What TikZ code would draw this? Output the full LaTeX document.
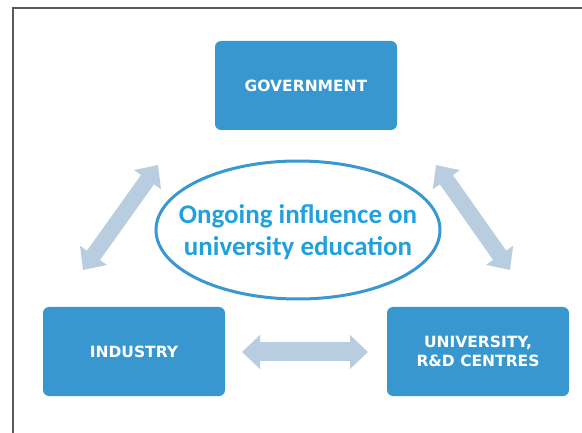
\documentclass[tikz,border=0pt]{standalone}
\usepackage{fontspec}
\setmainfont{DejaVu Sans}
\newfontfamily\carlito{Carlito}
\usetikzlibrary{arrows.meta}
\definecolor{boxblue}{HTML}{3797CE}
\definecolor{ringblue}{HTML}{3A98D0}
\definecolor{txtblue}{HTML}{22A0DC}
\definecolor{arrowgray}{HTML}{B9CDE0}
\definecolor{framegray}{HTML}{5A5A5A}
\tikzset{
  actor/.style={rectangle, rounded corners=6pt, fill=boxblue, text=white,
    minimum width=182pt, minimum height=89pt, inner sep=0pt, align=center,
    font=\fontsize{15.5}{19}\selectfont\bfseries},
  blockarrow/.style={draw=arrowgray, line width=16pt,
    {Triangle[width=32pt,length=18pt]}-{Triangle[width=32pt,length=18pt]}},
  hblockarrow/.style={draw=arrowgray, line width=19pt,
    {Triangle[width=33pt,length=18pt]}-{Triangle[width=33pt,length=18pt]}},
}
\begin{document}
\begin{tikzpicture}[x=1pt,y=-1pt]
\useasboundingbox (0,0) rectangle (582,433);
\draw[framegray, line width=1.6pt] (13,433) -- (13,8) -- (582,8);

\node[actor, text height=13pt] (gov) at (306,85.5) {GOVERNMENT};
\node[actor, text height=13pt] (ind) at (134,351.5) {INDUSTRY};
\node[actor] (uni) at (478,351.5) {UNIVERSITY,\\R\&D CENTRES};

\draw[ringblue, line width=3pt] (298,230) ellipse [x radius=142, y radius=69];
\node[text=txtblue, align=center, font=\carlito\fontsize{27}{32}\selectfont\bfseries] (infl) at (298,232)
  {Ongoing influence on\\university education};

\coordinate (la) at (83,270);
\coordinate (lb) at (158,165);
\coordinate (ra) at (436,165);
\coordinate (rb) at (510,270);
\coordinate (ha) at (242,352);
\coordinate (hb) at (368,352);
\draw[blockarrow] (la) -- (lb);
\draw[blockarrow] (ra) -- (rb);
\draw[hblockarrow] (ha) -- (hb);
\end{tikzpicture}
\end{document}
